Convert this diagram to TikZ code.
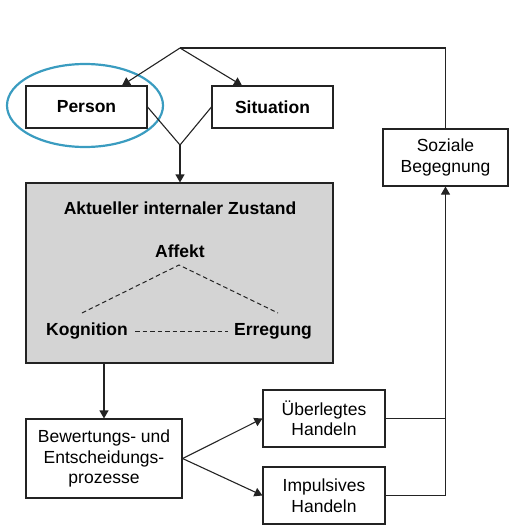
\documentclass[tikz,border=0pt]{standalone}
\usepackage{fontspec}
\setmainfont{Liberation Sans}
\usetikzlibrary{arrows.meta,calc}
\definecolor{ellblue}{RGB}{58,156,192}
\definecolor{boxgray}{RGB}{212,212,212}
\definecolor{linegray}{RGB}{35,35,35}
\tikzset{
  box/.style={draw=linegray,line width=1.1pt,rectangle,inner sep=0pt,align=center,font=\fontsize{17.5}{20.5}\selectfont},
  bbox/.style={box,font=\fontsize{17.5}{20.5}\selectfont\bfseries},
  lbl/.style={inner sep=0pt,font=\fontsize{17.5}{20}\selectfont\bfseries},
  conn/.style={draw=linegray,line width=1.1pt},
  arr/.style={conn,-{Triangle[length=8pt,width=9pt]}},
  dsh/.style={draw=linegray,line width=1pt,dash pattern=on 4.5pt off 3pt}
}
\begin{document}
\begin{tikzpicture}[x=1pt,y=-1pt]
\useasboundingbox (0,0) rectangle (514,532);
\node[bbox,minimum width=121pt,minimum height=42pt] (person) at (86.5,107) {Person};
\node[bbox,minimum width=121pt,minimum height=42pt] (situation) at (272.5,107) {Situation};
\node[box,minimum width=125pt,minimum height=57pt] (soz) at (445.5,157.5) {Soziale\\Begegnung};
\node[box,fill=boxgray,minimum width=307pt,minimum height=180pt] (gray) at (179.5,273) {};
\node[lbl] (zustand) at (180,208) {Aktueller internaler Zustand};
\node[lbl] (affekt) at (180,251) {Affekt};
\node[lbl] (kog) at (87,331) {Kognition};
\node[lbl] (err) at (273,331) {Erregung};
\node[box,minimum width=156pt,minimum height=79pt] (bew) at (104,458.5) {Bewertungs- und\\Entscheidungs-\\prozesse};
\node[box,minimum width=122pt,minimum height=57pt] (ueb) at (324,418.5) {Überlegtes\\Handeln};
\node[box,minimum width=122pt,minimum height=57pt] (imp) at (324,495.5) {Impulsives\\Handeln};
\coordinate (top) at (180,48);
\coordinate (merge) at (180,145);
\coordinate (apex) at (179,265);
\coordinate (dl) at (82,313);
\coordinate (dr) at (278,313);
\coordinate (kd) at (135,331);
\coordinate (ed) at (228,331);
% ellipse
\draw[ellblue,line width=2.2pt] (85,105.5) ellipse [x radius=78, y radius=41.5];
% connectors
\draw[conn] (top) -- (top -| soz.north) -- (soz.north);
\draw[arr] (top) -- ([xshift=35.5pt]person.north);
\draw[arr] (top) -- ([xshift=-30.5pt]situation.north);
\draw[conn] (person.east) -- (merge);
\draw[conn] (situation.west) -- (merge);
\draw[arr] (merge) -- (gray.north -| merge);
\draw[dsh] (dl) -- (apex) -- (dr);
\draw[dsh] (kd) -- (ed);
\draw[arr] (bew.north |- gray.south) -- (bew.north);
\draw[arr] (bew.east) -- (ueb.west);
\draw[arr] (bew.east) -- (imp.west);
\draw[conn] (ueb.east) -- (ueb.east -| soz.south);
\draw[conn] (imp.east) -- (imp.east -| soz.south);
\draw[arr] (imp.east -| soz.south) -- (soz.south);
\end{tikzpicture}
\end{document}
